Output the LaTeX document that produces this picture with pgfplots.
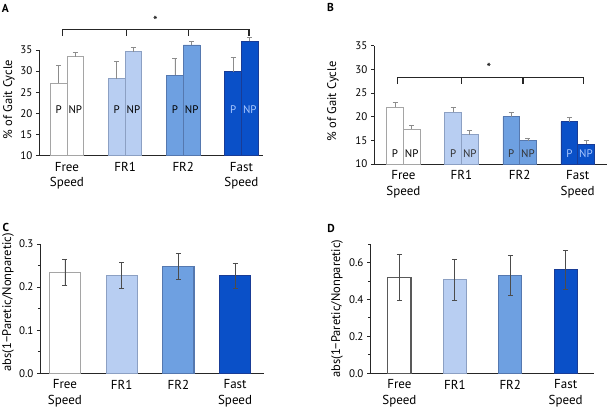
\documentclass[border=0pt]{standalone}
\usepackage{fontspec}
\setmainfont{PT Sans}
\usepackage{pgfplots}
\pgfplotsset{compat=1.18}
\definecolor{cW}{RGB}{255,255,255}
\definecolor{cL}{RGB}{184,206,242}
\definecolor{cM}{RGB}{110,160,225}
\definecolor{cD}{RGB}{10,80,200}
\definecolor{eW}{RGB}{165,165,165}
\definecolor{eL}{RGB}{140,160,195}
\definecolor{eM}{RGB}{85,120,175}
\definecolor{eD}{RGB}{25,60,150}
\definecolor{tD}{RGB}{170,200,255}
\tikzset{pl/.style={font=\fontsize{11}{13}\selectfont},
  lt/.style={font=\bfseries\fontsize{11.5}{13}\selectfont}}
\pgfplotsset{
  base/.style={
    scale only axis,
    axis x line*=bottom, axis y line*=left,
    axis line style={black!85, line width=0.9pt},
    tick align=outside, major tick length=3pt, minor tick length=2pt,
    tick style={black!85, line width=0.8pt},
    xtick={0,1,2,3},
    xticklabels={{Free\\Speed},FR1,FR2,{Fast\\Speed}},
    x tick style={draw=none},
    xticklabel style={align=center, font=\fontsize{13}{15.5}\selectfont},
    yticklabel style={font=\fontsize{11}{13}\selectfont},
    ylabel style={font=\fontsize{12.5}{14}\selectfont, anchor=center},
    /pgf/number format/assume math mode=true,
    clip=true,
  },
  pb/.style={ybar, bar shift=0pt, bar width=0.287, line width=0.8pt,
    error bars/y dir=plus, error bars/y explicit,
    error bars/error bar style={black!45, line width=0.8pt},
    error bars/error mark options={black!45, mark size=2.5pt, line width=0.8pt, rotate=90}},
  sb/.style={ybar, bar shift=0pt, line width=1.1pt,
    error bars/y dir=both, error bars/y explicit,
    error bars/error bar style={black!70, line width=0.7pt},
    error bars/error mark options={black!70, mark size=2.5pt, line width=0.7pt, rotate=90}},
}
\begin{document}
\begin{tikzpicture}
\useasboundingbox (0pt,0pt) rectangle (608pt,413pt);
% ---------------- A
\begin{axis}[base, at={(39pt,257.3pt)}, anchor=south west,
  width=224pt, height=143.75pt,
  xmin=-0.48, xmax=3.37, ymin=10, ymax=44,
  ytick={10,15,20,25,30,35},
  y axis line style={shorten >=38.05pt},
  ylabel={\% of Gait Cycle},
  ylabel style={at={(axis description cs:-0.134,0.39)}},
  extra description/.code={\node[lt] at (-0.15,1.024) {A};}]
\addplot[pb, fill=cW, draw=eW] coordinates {(-0.1435,27.1) +- (0,4.2) (0.1435,33.4) +- (0,1.0)};
\addplot[pb, fill=cL, draw=eL] coordinates {(0.8565,28.2) +- (0,4.0) (1.1435,34.6) +- (0,0.9)};
\addplot[pb, fill=cM, draw=eM] coordinates {(1.8565,29.0) +- (0,4.0) (2.1435,36.2) +- (0,0.8)};
\addplot[pb, fill=cD, draw=eD] coordinates {(2.8565,29.9) +- (0,3.4) (3.1435,37.05) +- (0,1.0)};
\draw[black!85, line width=1.2pt] (axis cs:-0.07,38.3) -- (axis cs:-0.07,39.9) -- (axis cs:3.13,39.9) -- (axis cs:3.13,38.3);
\draw[black!85, line width=1.2pt] (axis cs:1.03,39.9) -- (axis cs:1.03,38.3);
\draw[black!85, line width=1.2pt] (axis cs:2.09,39.9) -- (axis cs:2.09,38.3);
\node[font=\fontsize{13}{15}\selectfont] at (axis cs:1.52,42.0) {*};
\node[pl] at (axis cs:-0.1435,20.8) {P};
\node[pl] at (axis cs:0.1435,20.8) {NP};
\node[pl] at (axis cs:0.8565,20.8) {P};
\node[pl] at (axis cs:1.1435,20.8) {NP};
\node[pl] at (axis cs:1.8565,20.8) {P};
\node[pl] at (axis cs:2.1435,20.8) {NP};
\node[pl, text=tD] at (axis cs:2.8565,20.8) {P};
\node[pl, text=tD] at (axis cs:3.1435,20.8) {NP};
\end{axis}
% ---------------- B
\begin{axis}[base, at={(374pt,249pt)}, anchor=south west,
  width=232.7pt, height=118.3pt,
  xmin=-0.506, xmax=3.5, ymin=10, ymax=35,
  ytick={10,15,20,25,30,35},
  ylabel={\% of Gait Cycle},
  ylabel style={at={(axis description cs:-0.176,0.53)}},
  extra description/.code={\node[lt] at (-0.187,1.319) {B};}]
\addplot[pb, fill=cW, draw=eW] coordinates {(-0.1435,22.0) +- (0,1.0) (0.1435,17.4) +- (0,0.8)};
\addplot[pb, fill=cL, draw=eL] coordinates {(0.8565,20.9) +- (0,1.0) (1.1435,16.2) +- (0,0.8)};
\addplot[pb, fill=cM, draw=eM] coordinates {(1.8565,20.0) +- (0,0.9) (2.1435,14.9) +- (0,0.6)};
\addplot[pb, fill=cD, draw=eD] coordinates {(2.8565,18.9) +- (0,0.9) (3.1435,14.2) +- (0,0.7)};
\draw[black!85, line width=1.2pt] (axis cs:-0.1,26.9) -- (axis cs:-0.1,28.3) -- (axis cs:3.1,28.3) -- (axis cs:3.1,26.9);
\draw[black!85, line width=1.2pt] (axis cs:1.0,28.3) -- (axis cs:1.0,26.9);
\draw[black!85, line width=1.2pt] (axis cs:2.06,28.3) -- (axis cs:2.06,26.9);
\node[font=\fontsize{13}{15}\selectfont] at (axis cs:1.47,30.3) {*};
\node[pl] at (axis cs:-0.1435,12.1) {P};
\node[pl] at (axis cs:0.1435,12.1) {NP};
\node[pl, text=black!80] at (axis cs:0.8565,12.1) {P};
\node[pl, text=black!80] at (axis cs:1.1435,12.1) {NP};
\node[pl, text=black!80] at (axis cs:1.8565,12.1) {P};
\node[pl, text=black!80] at (axis cs:2.1435,12.1) {NP};
\node[pl, text=tD] at (axis cs:2.8565,12.1) {P};
\node[pl, text=tD] at (axis cs:3.1435,12.1) {NP};
\end{axis}
% ---------------- C
\begin{axis}[base, at={(40pt,39.7pt)}, anchor=south west,
  width=224pt, height=129.3pt,
  xmin=-0.44, xmax=3.51, ymin=0, ymax=0.3,
  ytick={0,0.1,0.2,0.3}, minor y tick num=1,
  yticklabel style={/pgf/number format/.cd, fixed, fixed zerofill, precision=1},
  ylabel={abs(1−Paretic/Nonparetic)},
  ylabel style={at={(axis description cs:-0.143,0.55)}},
  extra description/.code={\node[lt] at (-0.152,1.13) {C};}]
\addplot[sb, bar width=0.55, fill=cW, draw=eW] coordinates {(0,0.234) +- (0,0.031)};
\addplot[sb, bar width=0.55, fill=cL, draw=eL] coordinates {(1,0.227) +- (0,0.031)};
\addplot[sb, bar width=0.55, fill=cM, draw=eM] coordinates {(2,0.248) +- (0,0.031)};
\addplot[sb, bar width=0.55, fill=cD, draw=eD] coordinates {(3,0.226) +- (0,0.030)};
\end{axis}
% ---------------- D
\begin{axis}[base, at={(370pt,39.7pt)}, anchor=south west,
  width=224pt, height=129.3pt,
  xmin=-0.53, xmax=3.51, ymin=0, ymax=0.7,
  ytick={0,0.2,0.4,0.6}, minor y tick num=1,
  extra y ticks={0.7}, extra y tick labels={},
  extra y tick style={major tick length=2pt},
  yticklabel style={/pgf/number format/.cd, fixed, fixed zerofill, precision=1},
  ylabel={abs(1−Paretic/Nonparetic)},
  ylabel style={at={(axis description cs:-0.147,0.5)}},
  extra description/.code={\node[lt] at (-0.174,1.12) {D};}]
\addplot[sb, bar width=0.42, fill=cW, draw=black!65] coordinates {(0,0.519) +- (0,0.125)};
\addplot[sb, bar width=0.42, fill=cL, draw=eL] coordinates {(1,0.508) +- (0,0.111)};
\addplot[sb, bar width=0.42, fill=cM, draw=eM] coordinates {(2,0.530) +- (0,0.109)};
\addplot[sb, bar width=0.42, fill=cD, draw=eD] coordinates {(3,0.560) +- (0,0.103)};
\end{axis}
\end{tikzpicture}
\end{document}
